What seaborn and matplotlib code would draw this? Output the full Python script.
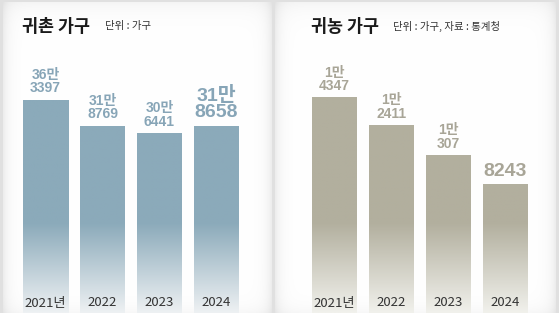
import numpy as np
import matplotlib
matplotlib.use("Agg")
import matplotlib.pyplot as plt
import seaborn as sns
from matplotlib.colors import to_rgb

# ---- data ----
years = ["2021년", "2022", "2023", "2024"]
gwichon_values = [363397, 318769, 306441, 318658]
gwichon_labels = ["36만\n3397", "31만\n8769", "30만\n6441", "31만\n8658"]
gwinong_values = [14347, 12411, 10307, 8243]
gwinong_labels = ["1만\n4347", "1만\n2411", "1만\n307", "8243"]
titles = ["귀촌 가구", "귀농 가구"]
subtitles = ["단위 : 가구", "단위 : 가구, 자료 : 통계청"]

sns.set_theme(style="white")
plt.rcParams["font.family"] = ["Liberation Sans", "Noto Sans CJK KR", "DejaVu Sans"]

W, H = 559, 335
fig = plt.figure(figsize=(W / 100, H / 100), dpi=100)
fig.patch.set_facecolor("white")

# ---- background panels (soft gray frame) ----
bg = np.ones((H, W, 3))
yy, xx = np.mgrid[0:H, 0:W]
panels_px = [(3, 2, 272, 313), (275, 2, 556, 313)]
shade = np.zeros((H, W))
for (x0, y0, x1, y1) in panels_px:
    inside = (xx >= x0) & (xx < x1) & (yy >= y0) & (yy < y1)
    dx = np.minimum(xx - x0, x1 - 1 - xx)
    dy = yy - y0
    db = y1 - 1 - yy
    s = 0.07 * np.exp(-dx / 6.0) + 0.04 * np.exp(-dy / 10.0) + 0.03 * np.exp(-db / 8.0)
    shade = np.where(inside, s, shade)
outside_top = yy < 313
gap = outside_top & (shade == 0)
shade = np.where(gap, 0.12, shade)
bg = np.clip(bg - shade[..., None], 0, 1)
bax = fig.add_axes([0, 0, 1, 1])
bax.imshow(bg, extent=[0, W, H, 0], aspect="auto", interpolation="bilinear")
bax.set_xlim(0, W)
bax.set_ylim(H, 0)
bax.axis("off")

# ---- bar panels ----
cfg = [
    dict(px=(3, 272), c0=45.5, vals=gwichon_values, labels=gwichon_labels,
         ylim=(0, 530700), top="#8baaba", bottom="#eef1f3", txt="#87a5b7",
         title_x=22, sub_x=105),
    dict(px=(275, 556), c0=334.5, vals=gwinong_values, labels=gwinong_labels,
         ylim=(-740, 21080), top="#b2af9e", bottom="#f1f1ec", txt="#a8a597",
         title_x=311, sub_x=393),
]
spacing = 57.0
ax_top, ax_bot = 2, 313

for i, c in enumerate(cfg):
    x0, x1 = c["px"]
    ax = fig.add_axes([x0 / W, (H - ax_bot) / H, (x1 - x0) / W, (ax_bot - ax_top) / H])
    ax.patch.set_alpha(0)
    sns.barplot(x=years, y=c["vals"], ax=ax, width=45 / spacing, color=c["top"],
                saturation=1)
    ylo, yhi = c["ylim"]
    units_per_px = (yhi - ylo) / (ax_bot - ax_top)
    fade = 90 * units_per_px
    ctop = np.array(to_rgb(c["top"]))
    cbot = np.array(to_rgb(c["bottom"]))
    for k, p in enumerate(ax.patches):
        bx, bw, bh = p.get_x(), p.get_width(), p.get_height()
        p.set_visible(False)
        n = 200
        yv = np.linspace(bh, ylo, n)
        t = np.clip((yv - ylo) / fade, 0, 1)
        col = cbot[None, :] * (1 - t[:, None]) + ctop[None, :] * t[:, None]
        img = np.repeat(col[:, None, :], 2, axis=1)
        ax.imshow(img, extent=[bx, bx + bw, ylo, bh], aspect="auto",
                  interpolation="bilinear", zorder=2)
        big = (k == len(ax.patches) - 1)
        ax.annotate(c["labels"][k], xy=(bx + bw / 2, bh), xytext=(0, 3.5),
                    textcoords="offset points", ha="center", va="bottom",
                    fontsize=14 if big else 10, fontweight="bold",
                    color=c["txt"], linespacing=0.95, zorder=3)
        ax.text(bx + bw / 2, (ax_bot - 303) / (ax_bot - ax_top), years[k],
                transform=ax.get_xaxis_transform(), ha="center", va="center",
                fontsize=9.5, color="#333333", zorder=3,
                family=["Liberation Sans Narrow", "Noto Sans CJK KR"])
    ax.set_xlim((x0 - c["c0"]) / spacing, (x1 - c["c0"]) / spacing)
    ax.set_ylim(ylo, yhi)
    ax.axis("off")

    fig.text(c["title_x"] / W, 1 - 27 / H, titles[i], ha="left", va="center",
             fontsize=12.5, fontweight="bold", color="#1a1a1a",
             family=["Noto Sans CJK KR", "DejaVu Sans"])
    fig.text(c["sub_x"] / W, 1 - 26 / H, subtitles[i], ha="left", va="center",
             fontsize=7.5, color="#333333", family=["Noto Sans CJK KR", "DejaVu Sans"])

fig.savefig("out.png", dpi=100)
